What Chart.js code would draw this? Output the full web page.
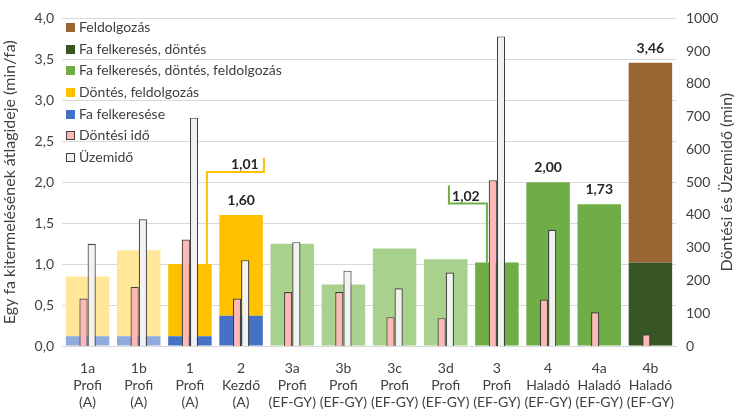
<!DOCTYPE html>
<html>
<head>
<meta charset="utf-8">
<script src="https://cdn.jsdelivr.net/npm/chart.js@4.4.1/dist/chart.umd.min.js"></script>
<style>
  html, body { margin: 0; padding: 0; background: #fff; }
  #wrap { position: relative; width: 740px; height: 410px; }
  #legend { position: absolute; left: 66px; top: 18px; font-family: Lato, sans-serif; font-size: 14px; color: #404040; }
  #legend div { height: 21.7px; line-height: 18px; white-space: nowrap; }
  #legend span { display: inline-block; width: 9px; height: 9px; margin-right: 4px; box-sizing: border-box; vertical-align: 0px; }
</style>
</head>
<body>
<div id="wrap">
  <canvas id="chart" width="740" height="410"></canvas>
  <div id="legend"></div>
</div>
<script>
// ---- data ----
const categories = [
  ["1a", "Profi", "(A)"], ["1b", "Profi", "(A)"], ["1", "Profi", "(A)"], ["2", "Kezdő", "(A)"],
  ["3a", "Profi", "(EF-GY)"], ["3b", "Profi", "(EF-GY)"], ["3c", "Profi", "(EF-GY)"], ["3d", "Profi", "(EF-GY)"],
  ["3", "Profi", "(EF-GY)"], ["4", "Haladó", "(EF-GY)"], ["4a", "Haladó", "(EF-GY)"], ["4b", "Haladó", "(EF-GY)"]
];

// stacked segments, min/fa (left axis)
const faFelkeresese = [0.12, 0.12, 0.12, 0.37, null, null, null, null, null, null, null, null];
const faFelkDontes = [null, null, null, null, null, null, null, null, null, null, null, 1.02];
const faFelkDontFeld = [null, null, null, null, 1.25, 0.75, 1.19, 1.06, 1.02, 2.00, 1.73, null];
const dontesFeldolgozas = [0.73, 1.05, 0.88, 1.23, null, null, null, null, null, null, null, null];
const feldolgozas = [null, null, null, null, null, null, null, null, null, null, null, 2.44];

// minutes (right axis)
const dontesiIdo = [145, 180, 325, 145, 165, 165, 88, 85, 506, 142, 103, 36];
const uzemido = [312, 387, 697, 262, 317, 230, 176, 224, 945, 355, null, null];

// labels written above bars
const valueLabels = [null, null, 1.01, 1.60, null, null, null, null, 1.02, 2.00, 1.73, 3.46];

const leftTicks = [0, 0.5, 1, 1.5, 2, 2.5, 3, 3.5, 4];
const rightTicks = [0, 100, 200, 300, 400, 500, 600, 700, 800, 900, 1000];

// ---- colours ----
const BLUE = "#4472c4", BLUE_L = "#8faadc";
const YELLOW = "#ffc000", YELLOW_L = "#ffe699";
const GREEN = "#70ad47", GREEN_L = "#a9d18e";
const DARKGREEN = "#375623", BROWN = "#996633";
const PINK = "#ffb7b7", GREY = "#f2f2f2", EDGE = "#404040";

const lightA = [true, true, false, false];
const FONT = "Lato, sans-serif";

const legendItems = [
  ["Feldolgozás", BROWN, null],
  ["Fa felkeresés, döntés", DARKGREEN, null],
  ["Fa felkeresés, döntés, feldolgozás", GREEN, null],
  ["Döntés, feldolgozás", YELLOW, null],
  ["Fa felkeresése", BLUE, null],
  ["Döntési idő", PINK, EDGE],
  ["Üzemidő", GREY, EDGE]
];
const legendEl = document.getElementById("legend");
legendItems.forEach(([text, fill, edge]) => {
  const row = document.createElement("div");
  const box = document.createElement("span");
  box.style.background = fill;
  if (edge) box.style.border = "1px solid " + edge;
  row.appendChild(box);
  row.appendChild(document.createTextNode(text));
  legendEl.appendChild(row);
});

const fmt = (v) => v.toFixed(2).replace(".", ",");

// labels, callouts and the right axis title
const extrasPlugin = {
  id: "extras",
  afterDatasetsDraw(chart) {
    const ctx = chart.ctx;
    const x = chart.scales.x, y = chart.scales.y;
    const totals = categories.map((_, i) =>
      [faFelkeresese, faFelkDontes, faFelkDontFeld, dontesFeldolgozas, feldolgozas]
        .reduce((s, a) => s + (a[i] || 0), 0));
    ctx.save();
    ctx.font = "bold 14px " + FONT;
    ctx.fillStyle = "#262626";
    ctx.textAlign = "center";
    ctx.textBaseline = "alphabetic";
    valueLabels.forEach((v, i) => {
      if (v == null) return;
      const cx = x.getPixelForValue(i);
      const top = y.getPixelForValue(totals[i]);
      if (i === 2) {
        // yellow bracket
        ctx.strokeStyle = YELLOW; ctx.lineWidth = 2;
        ctx.beginPath();
        ctx.moveTo(cx + 17, top);
        ctx.lineTo(cx + 17, top - 92);
        ctx.lineTo(cx + 74, top - 92);
        ctx.lineTo(cx + 74, top - 106);
        ctx.stroke();
        ctx.fillText(fmt(v), cx + 55, top - 95);
      } else if (i === 8) {
        // green bracket
        ctx.strokeStyle = GREEN; ctx.lineWidth = 2;
        ctx.beginPath();
        ctx.moveTo(cx - 10, top);
        ctx.lineTo(cx - 10, top - 59);
        ctx.lineTo(cx - 48, top - 59);
        ctx.lineTo(cx - 48, top - 77);
        ctx.stroke();
        ctx.fillText(fmt(v), cx - 31, top - 61);
      } else {
        ctx.fillText(fmt(v), cx, top - 10);
      }
    });
    // right axis title, reading bottom to top
    const area = chart.chartArea;
    ctx.translate(727, (area.top + area.bottom) / 2);
    ctx.rotate(-Math.PI / 2);
    ctx.font = "16px " + FONT;
    ctx.fillStyle = "#404040";
    ctx.textBaseline = "middle";
    ctx.fillText("Döntési és Üzemidő (min)", 0, 0);
    ctx.restore();
  }
};

// main bars overlap (grouped:false) in one stack; time bars sit side by side in their own stacks
const mainBar = { yAxisID: "y", stack: "main", grouped: false, categoryPercentage: 1, barPercentage: 0.85, borderWidth: 0 };
const timeBar = { yAxisID: "y2", categoryPercentage: 0.32, barPercentage: 1, borderWidth: 1.2, borderColor: EDGE };

new Chart(document.getElementById("chart"), {
  type: "bar",
  data: {
    labels: categories,
    datasets: [
      { ...timeBar, label: "Döntési idő", stack: "p", data: dontesiIdo, backgroundColor: PINK },
      { ...timeBar, label: "Üzemidő", stack: "g", data: uzemido, backgroundColor: GREY },
      { ...mainBar, label: "Fa felkeresése", data: faFelkeresese,
        backgroundColor: categories.map((_, i) => lightA[i] ? BLUE_L : BLUE) },
      { ...mainBar, label: "Fa felkeresés, döntés", data: faFelkDontes, backgroundColor: DARKGREEN },
      { ...mainBar, label: "Fa felkeresés, döntés, feldolgozás", data: faFelkDontFeld,
        backgroundColor: categories.map((_, i) => (i >= 4 && i <= 7) ? GREEN_L : GREEN) },
      { ...mainBar, label: "Döntés, feldolgozás", data: dontesFeldolgozas,
        backgroundColor: categories.map((_, i) => lightA[i] ? YELLOW_L : YELLOW) },
      { ...mainBar, label: "Feldolgozás", data: feldolgozas, backgroundColor: BROWN }
    ]
  },
  options: {
    responsive: false,
    animation: false,
    layout: { padding: { top: 6, left: 0, right: 0, bottom: 0 } },
    plugins: { legend: { display: false }, tooltip: { enabled: false } },
    scales: {
      x: {
        stacked: true,
        grid: { display: false },
        border: { color: "#d9d9d9" },
        ticks: { color: "#404040", font: { family: FONT, size: 14 }, maxRotation: 0, autoSkip: false, padding: 6 },
        afterFit: (s) => { s.height = 64; }
      },
      y: {
        stacked: true,
        min: 0, max: 4,
        afterBuildTicks: (s) => { s.ticks = leftTicks.map(v => ({ value: v })); },
        ticks: { color: "#404040", font: { family: FONT, size: 14 }, padding: 8,
                 callback: (v) => v.toFixed(1).replace(".", ",") },
        grid: { color: "#d9d9d9", drawTicks: false },
        border: { display: false },
        title: { display: true, text: "Egy fa kitermelésének átlagideje (min/fa)", color: "#404040",
                 font: { family: FONT, size: 16 }, padding: { top: 0, bottom: 3 } },
        afterFit: (s) => { s.width = 62; }
      },
      y2: {
        position: "right",
        stacked: false,
        min: 0, max: 1000,
        afterBuildTicks: (s) => { s.ticks = rightTicks.map(v => ({ value: v })); },
        ticks: { color: "#404040", font: { family: FONT, size: 14 }, padding: 10,
                 callback: (v) => String(v) },
        grid: { display: false, drawTicks: false },
        border: { display: false },
        afterFit: (s) => { s.width = 64; }
      }
    }
  },
  plugins: [extrasPlugin]
});
</script>
</body>
</html>
